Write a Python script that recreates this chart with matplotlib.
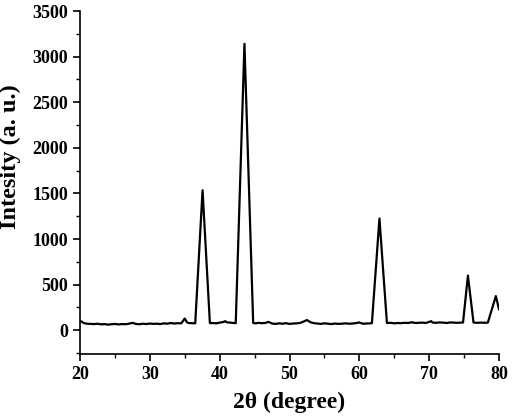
import matplotlib
matplotlib.use("Agg")
import matplotlib.pyplot as plt
from matplotlib.ticker import MultipleLocator

two_theta = [20.0, 20.25, 20.5, 21.0, 21.5, 22.0, 22.5, 23.0, 23.5, 24.0, 24.5, 25.0, 25.5,
             26.0, 26.5, 27.0, 27.5, 28.0, 28.5, 29.0, 29.5, 30.0, 30.5, 31.0, 31.5, 32.0,
             32.5, 33.0, 33.5, 34.0, 34.5, 35.0, 35.3, 35.5, 36.0, 36.5,
             37.55, 38.6, 39.0, 39.5, 40.0, 40.5, 40.8, 41.0, 41.5, 42.0, 42.3,
             43.55, 44.8, 45.2, 45.5, 46.0, 46.5, 47.0, 47.5, 48.0, 48.5, 49.0, 49.5,
             50.0, 50.5, 51.0, 51.5, 52.0, 52.5, 53.0, 53.5, 54.0, 54.5, 55.0, 55.5,
             56.0, 56.5, 57.0, 57.5, 58.0, 58.5, 59.0, 59.5, 60.0, 60.5, 61.0, 61.5, 61.8,
             62.88, 63.95, 64.5, 65.0, 65.5, 66.0, 66.5, 67.0, 67.5, 68.0, 68.5, 69.0,
             69.5, 70.0, 70.3, 70.5, 71.0, 71.5, 72.0, 72.5, 73.0, 73.5, 74.0, 74.5, 74.85,
             75.55, 76.35, 76.8, 77.5, 78.0, 78.4, 79.55, 80.0]
intensity = [100, 95, 80, 72, 70, 68, 72, 65, 68, 62, 66, 70, 64,
             68, 66, 72, 82, 70, 66, 72, 68, 74, 70, 72, 68, 76,
             72, 80, 74, 78, 76, 128, 90, 80, 78, 76,
             1535, 78, 80, 76, 84, 90, 100, 88, 84, 80, 78,
             3140, 80, 76, 82, 78, 80, 92, 74, 70, 76, 72, 78,
             70, 74, 76, 80, 95, 112, 88, 78, 74, 70, 76, 72,
             68, 74, 70, 72, 76, 72, 74, 78, 86, 72, 74, 76, 78,
             1225, 80, 82, 76, 80, 78, 82, 80, 88, 80, 82, 84,
             80, 92, 100, 84, 82, 86, 84, 80, 86, 84, 82, 84, 85,
             600, 85, 82, 84, 82, 84, 375, 230]

x_label = "2θ (degree)"
y_label = "Intesity (a. u.)"

plt.rcParams['font.family'] = ['Liberation Serif', 'DejaVu Serif']
plt.rcParams['font.weight'] = 'bold'

fig = plt.figure(figsize=(5.12, 4.18), dpi=100)
ax = fig.add_axes([80/512, 1-354/418, (499-80)/512, (354-11)/418])
ax.plot(two_theta, intensity, color='black', lw=1.6)
ax.set_xlim(20, 80)
ax.set_ylim(-260, 3500)
ax.xaxis.set_major_locator(MultipleLocator(10))
ax.xaxis.set_minor_locator(MultipleLocator(5))
ax.yaxis.set_major_locator(MultipleLocator(500))
ax.yaxis.set_minor_locator(MultipleLocator(250))
for s in ['top', 'right']:
    ax.spines[s].set_visible(False)
for s in ['left', 'bottom']:
    ax.spines[s].set_linewidth(1.2)
ax.tick_params(which='major', length=5, width=1.2, labelsize=13, direction='out')
ax.tick_params(which='minor', length=3, width=1.0, direction='out')
for lab in ax.get_xticklabels() + ax.get_yticklabels():
    lab.set_fontweight('bold')
ax.set_xlabel(x_label, fontsize=17, fontweight='bold')
ax.set_ylabel(y_label, fontsize=17.5, fontweight='bold')
ax.xaxis.set_label_coords(0.5, -0.11)
ax.yaxis.set_label_coords(-0.141, 0.574)
fig.savefig("out.png", dpi=100)
